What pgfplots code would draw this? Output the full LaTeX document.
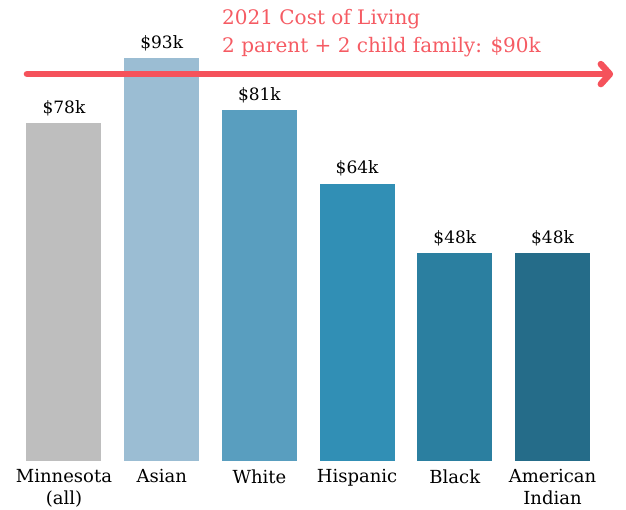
\documentclass[border=0pt]{standalone}
\usepackage{pgfplots}
\pgfplotsset{compat=1.18}
\usepackage{fontspec}
\setmainfont{DejaVu Serif}
\usetikzlibrary{arrows.meta}
\definecolor{cgray}{HTML}{BEBEBE}
\definecolor{casian}{HTML}{9BBDD3}
\definecolor{cwhite}{HTML}{599EBF}
\definecolor{chisp}{HTML}{318FB5}
\definecolor{cblack}{HTML}{2B7FA0}
\definecolor{caind}{HTML}{256C89}
\definecolor{cred}{HTML}{F5525B}
\definecolor{credtext}{HTML}{F55B63}
\pgfplotsset{
  mybar/.style={ybar, bar width=75pt, bar shift=0pt, fill=#1, draw=none,
    nodes near coords={\$\pgfmathprintnumber[assume math mode=true]{\pgfplotspointmeta}k},
    nodes near coords style={font=\fontsize{17}{20}\selectfont, text=black, anchor=base, inner sep=0pt, yshift=10pt}},
}
\begin{document}
\begin{tikzpicture}
\begin{axis}[name=ax, scale only axis, width=626pt, height=461pt,
  xmin=-0.655, xmax=5.752, ymin=0, ymax=106.4,
  axis line style={draw=none}, ytick=\empty, major tick length=0pt,
  xtick={0,1,2,3,4,5},
  xticklabels={Minnesota\\(all), Asian, White, Hispanic, Black, American\\Indian},
  xticklabel style={font=\fontsize{18}{21.5}\selectfont, align=center, anchor=north, yshift=-5pt},
  clip=false]
\addplot[mybar=cgray] coordinates {(0,78)};
\addplot[mybar=casian] coordinates {(1,93)};
\addplot[mybar=cwhite] coordinates {(2,81)};
\addplot[mybar=chisp] coordinates {(3,64)};
\addplot[mybar=cblack] coordinates {(4,48)};
\addplot[mybar=caind] coordinates {(5,48)};
\addplot[sharp plot, draw=cred, line width=6.5pt, line cap=round, -{Straight Barb[length=9pt,width=20pt,round]}] coordinates {(-0.379,89.3) (5.62,89.3)};
\end{axis}
\node[anchor=base west, text=credtext, font=\fontsize{20}{22}\selectfont, inner sep=0pt] at ([xshift=222pt,yshift=-25pt]ax.north west) {2021 Cost of Living};
\node[anchor=base west, text=credtext, font=\fontsize{20}{22}\selectfont, inner sep=0pt] at ([xshift=222pt,yshift=-53pt]ax.north west) {2 parent + 2 child family: \$90k};
\pgfresetboundingbox
\path (ax.south west) ++(0,-49pt) rectangle (ax.north east);
\end{tikzpicture}
\end{document}
